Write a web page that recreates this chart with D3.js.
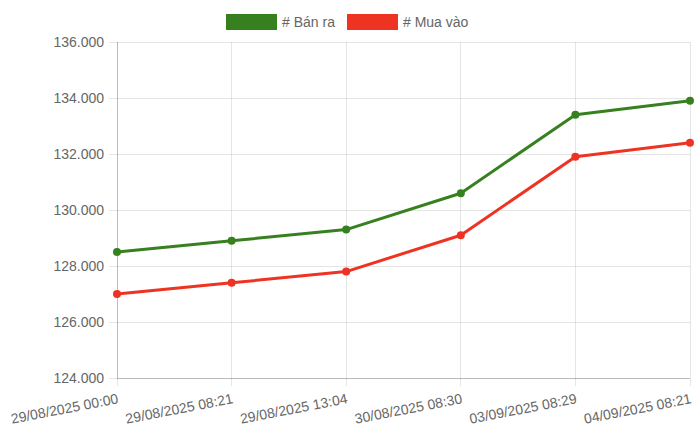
<!DOCTYPE html>
<html><head><meta charset="utf-8">
<script src="https://cdn.jsdelivr.net/npm/d3@7"></script>
<style>body{margin:0;background:#fff}svg{display:block}</style>
</head><body>
<svg id="c" width="700" height="442"></svg>
<script>
const categories = ["29/08/2025 00:00","29/08/2025 08:21","29/08/2025 13:04","30/08/2025 08:30","03/09/2025 08:29","04/09/2025 08:21"];
const banRa = [128500,128900,129300,130600,133400,133900];
const muaVao = [127000,127400,127800,129100,131900,132400];
const yTicks = [124000,126000,128000,130000,132000,134000,136000];
const seriesNames = ["# Bán ra","# Mua vào"];
const colors = ["#37801f","#ee3322"];

const svg = d3.select("#c");
const font = "'Helvetica Neue', Helvetica, Arial, 'Liberation Sans', sans-serif";
const L=117, R=690, T=42, B=378;
const x = d3.scalePoint().domain(categories).range([L,R]);
const y = d3.scaleLinear().domain([124000,136000]).range([B,T]);
const fmt = v => d3.format(",")(v).replace(/,/g,".") ;

// grid
const g = svg.append("g");
g.selectAll(".hy").data(yTicks).join("line")
 .attr("x1",L-8).attr("x2",R).attr("y1",d=>y(d)).attr("y2",d=>y(d))
 .attr("stroke","rgba(0,0,0,0.1)").attr("shape-rendering","crispEdges");
g.selectAll(".vx").data(categories).join("line")
 .attr("x1",d=>x(d)).attr("x2",d=>x(d)).attr("y1",T).attr("y2",B+8)
 .attr("stroke","rgba(0,0,0,0.1)").attr("shape-rendering","crispEdges");
// axis lines
g.append("line").attr("x1",L).attr("x2",L).attr("y1",T).attr("y2",B).attr("stroke","rgba(0,0,0,0.18)").attr("shape-rendering","crispEdges");
g.append("line").attr("x1",L).attr("x2",R).attr("y1",B).attr("y2",B).attr("stroke","rgba(0,0,0,0.18)").attr("shape-rendering","crispEdges");

// y labels
g.selectAll(".yl").data(yTicks).join("text")
 .attr("x",L-13).attr("y",d=>y(d)).attr("dy","0.35em").attr("text-anchor","end")
 .attr("font-family",font).attr("font-size",14).attr("fill","#666").text(fmt);
// x labels
g.selectAll(".xl").data(categories).join("text")
 .attr("transform",d=>`translate(${x(d)+2},${B+25}) rotate(-11)`)
 .attr("text-anchor","end").attr("font-family",font).attr("font-size",14).attr("fill","#666").text(d=>d);

// lines
const line = d3.line().x((d,i)=>x(categories[i])).y(d=>y(d));
[banRa,muaVao].forEach((s,k)=>{
  svg.append("path").attr("d",line(s)).attr("fill","none").attr("stroke",colors[k]).attr("stroke-width",3).attr("stroke-linejoin","round");
  svg.selectAll(null).data(s).join("circle").attr("cx",(d,i)=>x(categories[i])).attr("cy",d=>y(d)).attr("r",4).attr("fill",colors[k]);
});

// legend
const leg = svg.append("g");
const legX=[226,347];
seriesNames.forEach((n,k)=>{
  leg.append("rect").attr("x",legX[k]).attr("y",14).attr("width",51).attr("height",16).attr("fill",colors[k]);
  leg.append("text").attr("x",legX[k]+56).attr("y",22).attr("dy","0.35em").attr("font-family",font).attr("font-size",14).attr("fill","#666").text(n);
});
</script>
</body></html>
